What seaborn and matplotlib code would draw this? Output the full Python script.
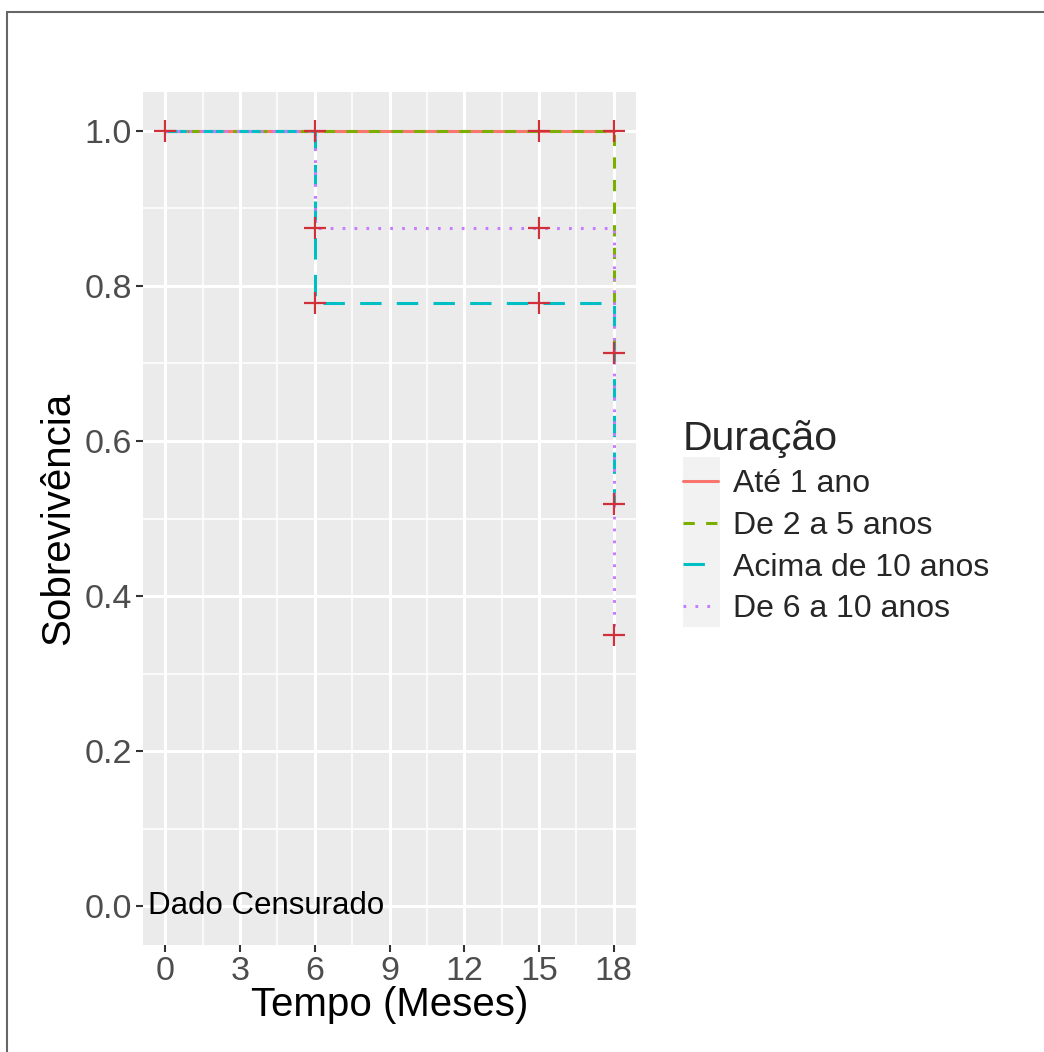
import numpy as np
import pandas as pd
import matplotlib
matplotlib.use("Agg")
import matplotlib.pyplot as plt
from matplotlib.lines import Line2D
from matplotlib.patches import Rectangle
import seaborn as sns

# ---- data ----
groups = ["Até 1 ano", "De 2 a 5 anos", "Acima de 10 anos", "De 6 a 10 anos"]
ate1_time = [0, 18]
ate1_surv = [1.0, 1.0]
de2a5_time = [0, 18, 18]
de2a5_surv = [1.0, 1.0, 0.714]
acima10_time = [0, 6, 18, 18]
acima10_surv = [1.0, 0.778, 0.778, 0.519]
de6a10_time = [0, 6, 18, 18]
de6a10_surv = [1.0, 0.875, 0.875, 0.35]

cens_time = [0, 6, 15, 18, 6, 15, 6, 15, 18, 18, 18]
cens_surv = [1.0, 1.0, 1.0, 1.0, 0.875, 0.875, 0.778, 0.778, 0.714, 0.519, 0.35]

x_ticks = [0, 3, 6, 9, 12, 15, 18]
y_ticks = [0.0, 0.2, 0.4, 0.6, 0.8, 1.0]

colors = ["#F8766D", "#7CAE00", "#00BFC4", "#C77CFF"]
dash_styles = ["", (3.7, 3.7), (7, 5), (0.9, 3.0)]

rows = []
for g, t, s in zip(groups,
                   [ate1_time, de2a5_time, acima10_time, de6a10_time],
                   [ate1_surv, de2a5_surv, acima10_surv, de6a10_surv]):
    for ti, si in zip(t, s):
        rows.append({"Tempo": ti, "Surv": si, "Duração": g})
df = pd.DataFrame(rows)
cens = pd.DataFrame({"Tempo": cens_time, "Surv": cens_surv})

sns.set_theme(style="darkgrid")
plt.rcParams["font.family"] = ["Liberation Sans", "DejaVu Sans"]

fig = plt.figure(figsize=(10.44, 10.52), dpi=100)
fig.patch.set_facecolor("white")
W, H = 1044, 1052
ax = fig.add_axes([143 / W, 1 - 945 / H, (636 - 143) / W, (945 - 92) / H])
ax.set_facecolor("#EBEBEB")

palette = dict(zip(groups, colors))
dashes = dict(zip(groups, dash_styles))
sns.lineplot(data=df, x="Tempo", y="Surv", hue="Duração", style="Duração",
             hue_order=groups, style_order=groups, palette=palette, dashes=dashes,
             estimator=None, sort=False, drawstyle="steps-post", linewidth=2.2,
             legend=False, ax=ax, zorder=3)
sns.scatterplot(data=cens, x="Tempo", y="Surv", marker="+", s=270, color="#D0303A",
                linewidth=1.6, ax=ax, zorder=4)

ax.text(4.05, 0, "Dado Censurado", ha="center", va="center", fontsize=22.5, color="black")

ax.set_xlim(-0.9, 18.9)
ax.set_ylim(-0.05, 1.05)
ax.set_xticks(x_ticks)
ax.set_xticklabels([str(v) for v in x_ticks])
ax.set_yticks(y_ticks)
ax.set_yticklabels([f"{v:.1f}" for v in y_ticks])
ax.set_xticks(np.arange(1.5, 18.9, 3), minor=True)
ax.set_yticks(np.arange(0.1, 1.0, 0.2), minor=True)
ax.grid(which="major", color="white", linewidth=2.2)
ax.grid(which="minor", color="white", linewidth=1.1)
ax.tick_params(which="major", length=5, width=1.5, color="#333333",
               labelsize=24.5, labelcolor="#4D4D4D", pad=3, bottom=True, left=True)
ax.tick_params(which="minor", length=0)
for sp in ax.spines.values():
    sp.set_visible(False)
ax.set_xlabel("Tempo (Meses)", fontsize=29, color="black", labelpad=-1)
ax.set_ylabel("Sobrevivência", fontsize=29, color="black", labelpad=5)

# legend
fig.add_artist(Rectangle((683 / W, 1 - 627 / H), 37 / W, 170 / H,
                         transform=fig.transFigure, facecolor="#F2F2F2",
                         edgecolor="none", zorder=0))
handles = [Line2D([], [], color=c, linewidth=2.2,
                  linestyle="-" if d == "" else (0, d))
           for c, d in zip(colors, dash_styles)]
leg = fig.legend(handles, groups, loc="upper left",
                 bbox_to_anchor=(683 / W, 1 - 420 / H), frameon=False,
                 title="Duração", title_fontsize=29.5, fontsize=23,
                 handlelength=1.1, handletextpad=0.45, labelspacing=0.36,
                 borderpad=0, borderaxespad=0, alignment="left")

# outer frame lines (top and left)
fig.add_artist(Line2D([7 / W, 7 / W], [0, 1 - 12 / H], color="#666666", lw=1.5,
                      transform=fig.transFigure))
fig.add_artist(Line2D([7 / W, 1], [1 - 12 / H, 1 - 12 / H], color="#666666", lw=1.5,
                      transform=fig.transFigure))

fig.savefig("out.png", dpi=100, facecolor="white")
